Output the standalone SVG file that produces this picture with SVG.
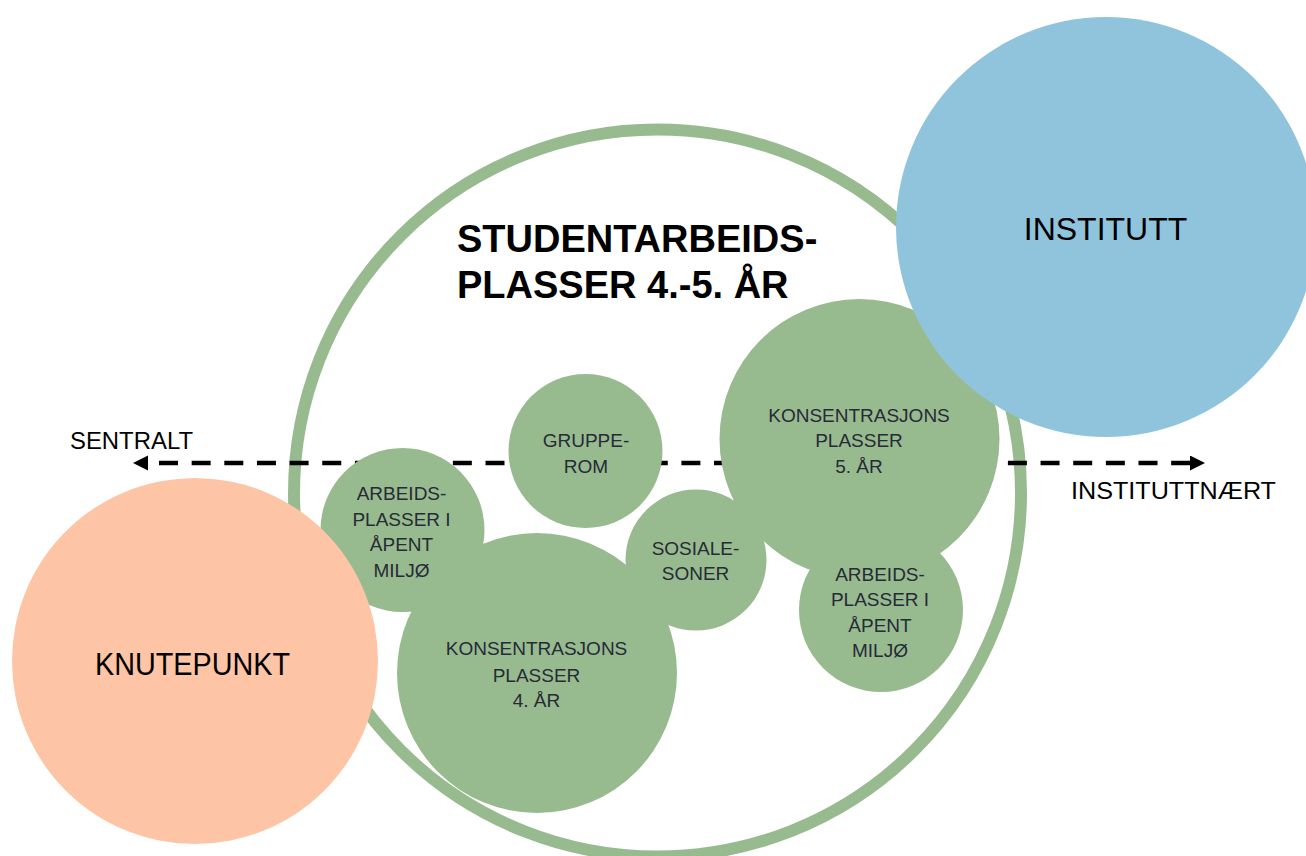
<svg xmlns="http://www.w3.org/2000/svg" width="1306" height="856" viewBox="0 0 1306 856">
  <defs>
    <marker id="arrow" markerUnits="userSpaceOnUse" markerWidth="16" markerHeight="16" refX="0" refY="7.5" orient="auto-start-reverse">
      <path d="M0,0 L15,7.5 L0,15 z" fill="#000"/>
    </marker>
    <style>
      .ring { fill: none; stroke: #98ba8f; stroke-width: 12; }
      .green { fill: #98ba8f; }
      .blue { fill: #8fc4dc; }
      .salmon { fill: #fdc4a5; }
      .lbl { font-family: "Liberation Sans", Arial, sans-serif; font-size: 19px; fill: #262b36; text-anchor: middle; }
      .big { font-family: "Liberation Sans", Arial, sans-serif; font-size: 32px; fill: #000; text-anchor: middle; }
      .axis { font-family: "Liberation Sans", Arial, sans-serif; font-size: 24px; fill: #000; }
      .title { font-family: "Liberation Sans", Arial, sans-serif; font-size: 38px; font-weight: bold; fill: #000; }
      .dash { stroke: #000; stroke-width: 4.5; stroke-dasharray: 19 13.65; stroke-dashoffset: 21.65; fill: none; }
    </style>
  </defs>
  <rect width="1306" height="856" fill="#fff"/>

  <g id="studentarbeidsplasser">
    <circle class="ring" cx="657.5" cy="493" r="363.5"/>
  </g>

  <g id="connectors">
    <line class="dash" x1="148" y1="463" x2="1190" y2="463" marker-start="url(#arrow)" marker-end="url(#arrow)"/>
  </g>

  <g id="grupperom">
    <circle class="green" cx="585.5" cy="451" r="77"/>
  </g>
  <g id="arbeidsplasser-venstre">
    <circle class="green" cx="402.5" cy="530" r="82"/>
  </g>
  <g id="konsentrasjon-4">
    <circle class="green" cx="537" cy="673" r="140"/>
  </g>
  <g id="sosialesoner">
    <circle class="green" cx="696" cy="560" r="70.5"/>
  </g>
  <g id="konsentrasjon-5">
    <circle class="green" cx="859.5" cy="439" r="140"/>
  </g>
  <g id="arbeidsplasser-hoyre">
    <circle class="green" cx="881" cy="610" r="82"/>
  </g>
  <g id="institutt">
    <circle class="blue" cx="1106" cy="227" r="210"/>
    <text class="big" x="1105.5" y="240">INSTITUTT</text>
  </g>
  <g id="knutepunkt">
    <circle class="salmon" cx="195" cy="661" r="183"/>
    <text class="big" x="192.5" y="675" textLength="195" lengthAdjust="spacingAndGlyphs">KNUTEPUNKT</text>
  </g>

  <g id="labels">
    <text class="title" x="457" y="252">STUDENTARBEIDS-</text>
    <text class="title" x="457" y="298">PLASSER 4.-5. ÅR</text>

    <text class="lbl" x="586" y="447">GRUPPE-</text>
    <text class="lbl" x="586" y="473">ROM</text>

    <text class="lbl" x="401.5" y="499.5">ARBEIDS-</text>
    <text class="lbl" x="401.5" y="525.5">PLASSER I</text>
    <text class="lbl" x="401.5" y="551">ÅPENT</text>
    <text class="lbl" x="401.5" y="576.5">MILJØ</text>

    <text class="lbl" x="536.5" y="655">KONSENTRASJONS</text>
    <text class="lbl" x="536.5" y="681.5">PLASSER</text>
    <text class="lbl" x="536.5" y="707">4. ÅR</text>

    <text class="lbl" x="695.5" y="555">SOSIALE-</text>
    <text class="lbl" x="695.5" y="580">SONER</text>

    <text class="lbl" x="859" y="421.5">KONSENTRASJONS</text>
    <text class="lbl" x="859" y="447">PLASSER</text>
    <text class="lbl" x="859" y="472.5">5. ÅR</text>

    <text class="lbl" x="880" y="581">ARBEIDS-</text>
    <text class="lbl" x="880" y="606">PLASSER I</text>
    <text class="lbl" x="880" y="632">ÅPENT</text>
    <text class="lbl" x="880" y="657">MILJØ</text>

    <text class="axis" x="70" y="449" textLength="123" lengthAdjust="spacingAndGlyphs">SENTRALT</text>
    <text class="axis" x="1071" y="498.5" textLength="205" lengthAdjust="spacingAndGlyphs">INSTITUTTNÆRT</text>
  </g>
</svg>
